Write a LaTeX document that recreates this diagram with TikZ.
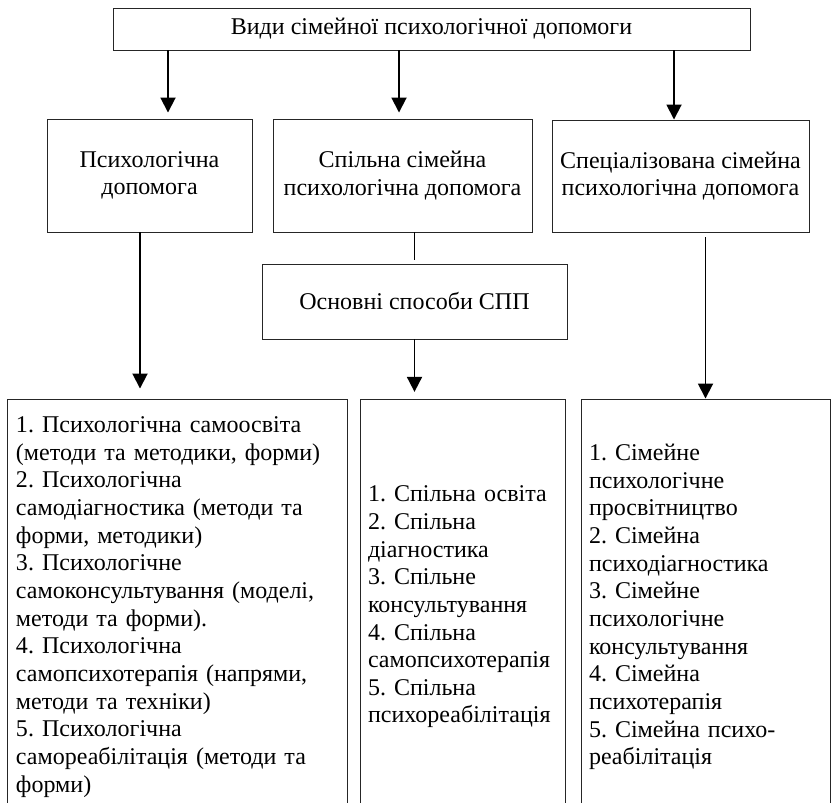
\documentclass[tikz,border=0pt]{standalone}
\usepackage{fontspec}
\setmainfont{Liberation Serif}
\usetikzlibrary{positioning, arrows.meta, calc}
\newcommand{\boxfont}{\fontsize{20.5pt}{23.6pt}\selectfont\frenchspacing}

\begin{document}
\begin{tikzpicture}[x=0.3mm, y=-0.3mm,
    block/.style={rectangle, draw=black!85, line width=0.8pt, inner sep=0pt, align=center, font=\boxfont},
    listbox/.style={rectangle, draw=black!85, line width=0.8pt, inner xsep=2.4mm, inner ysep=0pt, align=left, font=\boxfont, minimum height=124.8mm},
    arrow/.style={-{Triangle[length=4.5mm, width=4.5mm]}, line width=1.6pt, black},
    link/.style={line width=1.6pt, black}]

    % page frame
    \useasboundingbox (0,0) rectangle (834,802);

    % top box
    \node[block, minimum width=191.1mm, minimum height=12.6mm] (kinds) at (431.5,29) {Види сімейної психологічної допомоги};

    % three kinds of help
    \node[block, minimum width=61.5mm, minimum height=33.9mm] (psy) at (149.5,175.5) {Психологічна\\допомога};
    \node[block, minimum width=77.7mm, minimum height=33.9mm] (joint) at (402.5,175.5) {Спільна сімейна\\психологічна допомога};
    \node[block, minimum width=77.1mm, minimum height=33.6mm] (spec) at (680.5,176) {Спеціалізована сімейна\\психологічна допомога};

    % ways of joint help
    \node[block, minimum width=91.5mm, minimum height=22.5mm] (ways) at (414.5,301.5) {Основні способи СПП};

    % lists (lower edge runs off the page)
    \node[listbox, text width=96.6mm, inner xsep=2.7mm] (psylist) at (177,607) {1. Психологічна самоосвіта\\
        (методи та методики, форми)\\
        2. Психологічна\\
        самодіагностика (методи та\\
        форми, методики)\\
        3. Психологічне\\
        самоконсультування (моделі,\\
        методи та форми).\\
        4. Психологічна\\
        самопсихотерапія (напрями,\\
        методи та техніки)\\
        5. Психологічна\\
        самореабілітація (методи та\\
        форми)};
    \node[listbox, text width=56.7mm] (jointlist) at (462.5,607) {1. Спільна освіта\\
        2. Спільна\\
        діагностика\\
        3. Спільне\\
        консультування\\
        4. Спільна\\
        самопсихотерапія\\
        5. Спільна\\
        психореабілітація};
    \node[listbox, text width=69.9mm] (speclist) at (705.5,607) {1. Сімейне\\
        психологічне\\
        просвітництво\\
        2. Сімейна\\
        психодіагностика\\
        3. Сімейне\\
        психологічне\\
        консультування\\
        4. Сімейна\\
        психотерапія\\
        5. Сімейна психо-\\
        реабілітація};

    % arrow ends
    \coordinate (psyin) at ([xshift=5.55mm]psy.north);
    \coordinate (jointin) at ([xshift=-1.05mm]joint.north);
    \coordinate (specin) at ([xshift=-1.95mm]spec.north);
    \coordinate (psyout) at ([xshift=-2.85mm]psy.south);

    % arrows from the top box
    \draw[arrow, shorten >=1.8mm] (kinds.south -| psyin) -- (psyin);
    \draw[arrow, shorten >=1.8mm] (kinds.south -| jointin) -- (jointin);
    \draw[arrow] (kinds.south -| specin) -- (specin);

    % arrows down to the lists
    \draw[arrow, shorten >=3mm] (psyout) -- (psyout |- psylist.north);
    \draw[link, shorten >=1.2mm] (joint.south -| ways.north) -- (ways.north);
    \draw[arrow, shorten >=2mm] (ways.south) -- (ways.south |- jointlist.north);
    \draw[arrow, shorten <=1.5mm] (spec.south -| speclist.north) -- (speclist.north);
\end{tikzpicture}
\end{document}
